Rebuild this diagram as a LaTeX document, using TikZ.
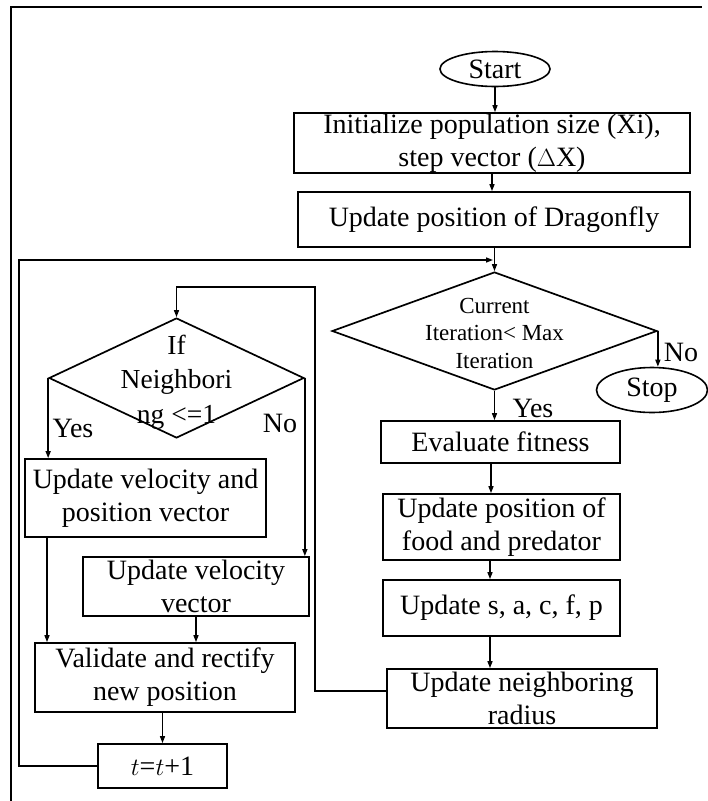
\documentclass[tikz,border=0pt]{standalone}
\usepackage{fontspec}
\setmainfont{Liberation Serif}
\usetikzlibrary{shapes.geometric,arrows.meta}
\newcommand{\bigtxt}{\fontsize{28}{33}\selectfont}
\newcommand{\midtxt}{\fontsize{23}{27.5}\selectfont}
\newcommand{\dtxt}{\fontsize{27.5}{34.5}\selectfont}
\tikzset{
 box/.style={draw, line width=1.7pt, rectangle, inner sep=0pt, align=center, font=\bigtxt},
 dia/.style={draw, line width=1.7pt, diamond, inner sep=0pt},
 term/.style={draw, line width=1.6pt, ellipse, inner sep=0pt, font=\bigtxt},
 arr/.style={line width=1.4pt, -{Triangle[length=7pt,width=5pt]}},
 ln/.style={line width=1.4pt},
 lbl/.style={inner sep=0pt, font=\bigtxt, align=center},
}
\begin{document}
\begin{tikzpicture}[x=1pt,y=-1pt]
\useasboundingbox (0,0) rectangle (708,801);
% frame
\coordinate (fbl) at (11,801);
\coordinate (ftl) at (11,7);
\coordinate (ftr) at (702,7);
\draw[line width=1.8pt] (fbl) -- (ftl) -- (ftr);

% right column
\node[term, minimum width=110pt, minimum height=35pt] (start) at (495,69) {Start};
\node[box, minimum width=396pt, minimum height=60pt] (init) at (492,143) {Initialize population size (Xi),\\step vector ($\Delta$X)};
\node[box, minimum width=392pt, minimum height=55pt] (dragon) at (494,219.5) {Update position of Dragonfly};
\node[dia, minimum width=325pt, minimum height=118pt] (d1) at (494.5,331) {};
\node[lbl, font=\midtxt] (d1t) at (494.5,333) {Current\\Iteration< Max\\Iteration};
\node[term, minimum width=111pt, minimum height=45pt] (stop) at (652,390) {Stop};
\node[box, minimum width=239pt, minimum height=42pt] (eval) at (500.5,442) {Evaluate fitness};
\node[box, minimum width=237pt, minimum height=66pt] (food) at (501.5,527) {Update position of\\food and predator};
\node[box, minimum width=237pt, minimum height=56pt] (upd) at (501.5,608) {Update s, a, c, f, p};
\node[box, minimum width=270pt, minimum height=59pt] (nbr) at (522,698.5) {Update neighboring\\radius};

% left column
\node[dia, minimum width=255pt, minimum height=120pt] (d2) at (176.5,378) {};
\node[lbl, font=\dtxt] (d2t) at (176.5,382) {If\\Neighbori\\ng <=1};
\node[box, minimum width=241pt, minimum height=78pt] (uvp) at (145.5,498) {Update velocity and\\position vector};
\node[box, minimum width=226pt, minimum height=59pt] (uvv) at (196,586.5) {Update velocity\\vector};
\node[box, minimum width=260pt, minimum height=69pt] (val) at (165,677.5) {Validate and rectify\\new position};
\node[box, minimum width=129pt, minimum height=44pt] (tt) at (162.5,766) {$t$=$t$+1};

% labels
\node[lbl] (no1) at (681,352) {No};
\node[lbl] (yes1) at (533,408) {Yes};
\node[lbl] (yes2) at (73,428) {Yes};
\node[lbl] (no2) at (280,423) {No};

% connectors right
\draw[arr] (start.south) -- (start.south |- init.north);
\draw[arr] (init.south) -- (init.south |- dragon.north);
\draw[arr] (dragon.south -| d1.north) -- (d1.north);
\draw[arr] (d1.east) -- (d1.east |- stop.north);
\draw[arr] (d1.south) -- (d1.south |- eval.north);
\draw[arr] ([xshift=-9.5pt]eval.south) -- ([xshift=-10.5pt]food.north);
\draw[arr] ([xshift=-11.5pt]food.south) -- ([xshift=-11.5pt]upd.north);
\draw[arr] ([xshift=-11.5pt]upd.south) -- ([xshift=-32pt]nbr.north);

% neighbour loop back to left diamond
\coordinate (nloop) at (315,287);
\draw[arr] ([yshift=7.5pt]nbr.west) -| (nloop) -| (d2.north);

% left connectors
\draw[arr] (d2.west) -- (d2.west |- uvp.north);
\draw[arr] (d2.east) -- (d2.east |- uvv.north);
\coordinate (lx) at (47,0);
\draw[arr] (uvp.south -| lx) -- (val.north -| lx);
\draw[arr] (uvv.south) -- (uvv.south |- val.north);
\draw[arr] (tt.north |- val.south) -- (tt.north);

% main loop
\coordinate (loopx) at (19,260);
\coordinate (lj) at (493,260);
\draw[arr] (tt.west) -| (loopx) -- (lj);
\end{tikzpicture}
\end{document}
